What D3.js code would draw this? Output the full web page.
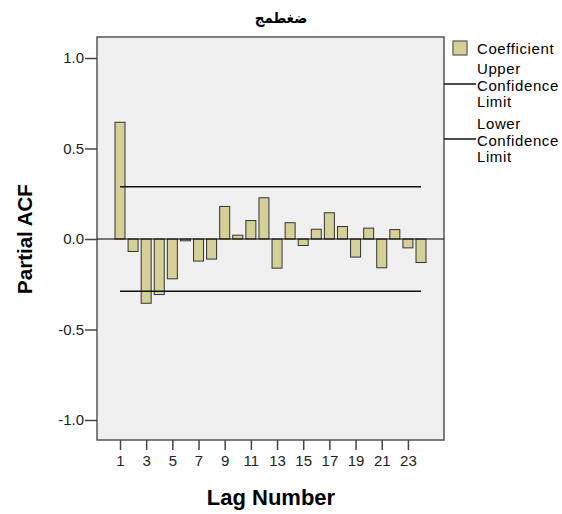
<!DOCTYPE html>
<html>
<head>
<meta charset="utf-8">
<script src="https://cdn.jsdelivr.net/npm/d3@7"></script>
<style>
  body { margin: 0; background: #fff; }
  text { font-family: "Liberation Sans", Arial, sans-serif; }
</style>
</head>
<body>
<div id="chart"></div>
<script>
// lag numbers and partial autocorrelation coefficients
var lags = d3.range(1, 25);
var coefficients = [0.645, -0.069, -0.355, -0.307, -0.22, -0.01, -0.122, -0.111,
    0.18, 0.021, 0.102, 0.228, -0.161, 0.09, -0.036, 0.054,
    0.145, 0.069, -0.1, 0.06, -0.159, 0.052, -0.049, -0.13];
var upperLimit = [0.288];
var lowerLimit = [-0.288];
var yTicks = [1.0, 0.5, 0.0, -0.5, -1.0];
var xTicks = [1, 3, 5, 7, 9, 11, 13, 15, 17, 19, 21, 23];

var width = 562, height = 514;
var plot = { left: 97, top: 37, right: 444, bottom: 440 };
var barColor = '#d5cf98';

var svg = d3.select('#chart')
    .append('svg')
    .attr('width', width)
    .attr('height', height);

var x = d3.scaleLinear()
    .domain([1, 24])
    .range([120, 421]);

var y = d3.scaleLinear()
    .domain([-1.0, 1.0])
    .range([420, 58]);

// plot background
svg.append('rect')
    .attr('x', plot.left)
    .attr('y', plot.top)
    .attr('width', plot.right - plot.left)
    .attr('height', plot.bottom - plot.top)
    .attr('fill', '#f0f0f0')
    .attr('stroke', '#555')
    .attr('stroke-width', 1.5);

// bars
var barW = 10;
svg.selectAll('rect.bar')
    .data(coefficients)
    .enter().append('rect')
    .attr('class', 'bar')
    .attr('x', function(d, i) { return x(lags[i]) - barW / 2; })
    .attr('y', function(d) { return y(Math.max(0, d)); })
    .attr('width', barW)
    .attr('height', function(d) { return Math.abs(y(d) - y(0)); })
    .attr('fill', barColor)
    .attr('stroke', '#333')
    .attr('stroke-width', 1);

// zero line
svg.append('line')
    .attr('x1', plot.left).attr('x2', plot.right)
    .attr('y1', y(0)).attr('y2', y(0))
    .attr('stroke', '#000')
    .attr('stroke-width', 1.2);

// confidence limits
[upperLimit[0], lowerLimit[0]].forEach(function(v) {
    svg.append('line')
        .attr('x1', x(1)).attr('x2', x(24))
        .attr('y1', y(v)).attr('y2', y(v))
        .attr('stroke', '#111')
        .attr('stroke-width', 1.5);
});

// y axis (plain hyphen for negatives, like the original)
var fmt = d3.format('.1f');
var yAxis = d3.axisLeft(y)
    .tickValues(yTicks)
    .tickFormat(function(d) { return fmt(d).replace('\u2212', '-'); })
    .tickSize(12)
    .tickPadding(1);

var gy = svg.append('g')
    .attr('transform', 'translate(' + plot.left + ',0)')
    .call(yAxis);
gy.select('.domain').remove();
gy.selectAll('line').attr('stroke', '#444').attr('stroke-width', 1.5);
gy.selectAll('text').attr('font-size', 15).attr('fill', '#222')
    .attr('font-family', '"Liberation Sans", Arial, sans-serif');

// x axis
var xAxis = d3.axisBottom(x)
    .tickValues(xTicks)
    .tickFormat(d3.format('d'))
    .tickSize(10)
    .tickPadding(5);

var gx = svg.append('g')
    .attr('transform', 'translate(0,' + plot.bottom + ')')
    .call(xAxis);
gx.select('.domain').remove();
gx.selectAll('line').attr('stroke', '#444').attr('stroke-width', 1.5);
gx.selectAll('text').attr('font-size', 15).attr('fill', '#222')
    .attr('font-family', '"Liberation Sans", Arial, sans-serif');

// axis titles
svg.append('text')
    .attr('x', 271).attr('y', 505)
    .attr('text-anchor', 'middle')
    .attr('font-size', 22)
    .attr('font-weight', 'bold')
    .text('Lag Number');

svg.append('text')
    .attr('transform', 'translate(32,239) rotate(-90)')
    .attr('text-anchor', 'middle')
    .attr('font-size', 20.5)
    .attr('font-weight', 'bold')
    .text('Partial ACF');

// title
svg.append('text')
    .attr('x', 281).attr('y', 23)
    .attr('text-anchor', 'middle')
    .attr('font-size', 15)
    .attr('font-weight', 'bold')
    .style('font-family', '"DejaVu Sans Condensed", "DejaVu Sans", sans-serif')
    .text('ضغطمج');

// legend
var legend = svg.append('g')
    .attr('font-size', 15)
    .attr('letter-spacing', 0.6);
legend.append('rect')
    .attr('x', 453).attr('y', 41)
    .attr('width', 14).attr('height', 14)
    .attr('fill', barColor)
    .attr('stroke', '#555')
    .attr('stroke-width', 1.2);
legend.append('text')
    .attr('x', 477).attr('y', 54)
    .text('Coefficient');

var legendLines = [
    { y: 84, words: ['Upper', 'Confidence', 'Limit'] },
    { y: 139, words: ['Lower', 'Confidence', 'Limit'] }
];
legendLines.forEach(function(l) {
    legend.append('line')
        .attr('x1', plot.right).attr('x2', 476)
        .attr('y1', l.y).attr('y2', l.y)
        .attr('stroke', '#111')
        .attr('stroke-width', 1.5);
    l.words.forEach(function(w, i) {
        legend.append('text')
            .attr('x', 477).attr('y', l.y - 10 + i * 16.5)
            .text(w);
    });
});
</script>
</body>
</html>
